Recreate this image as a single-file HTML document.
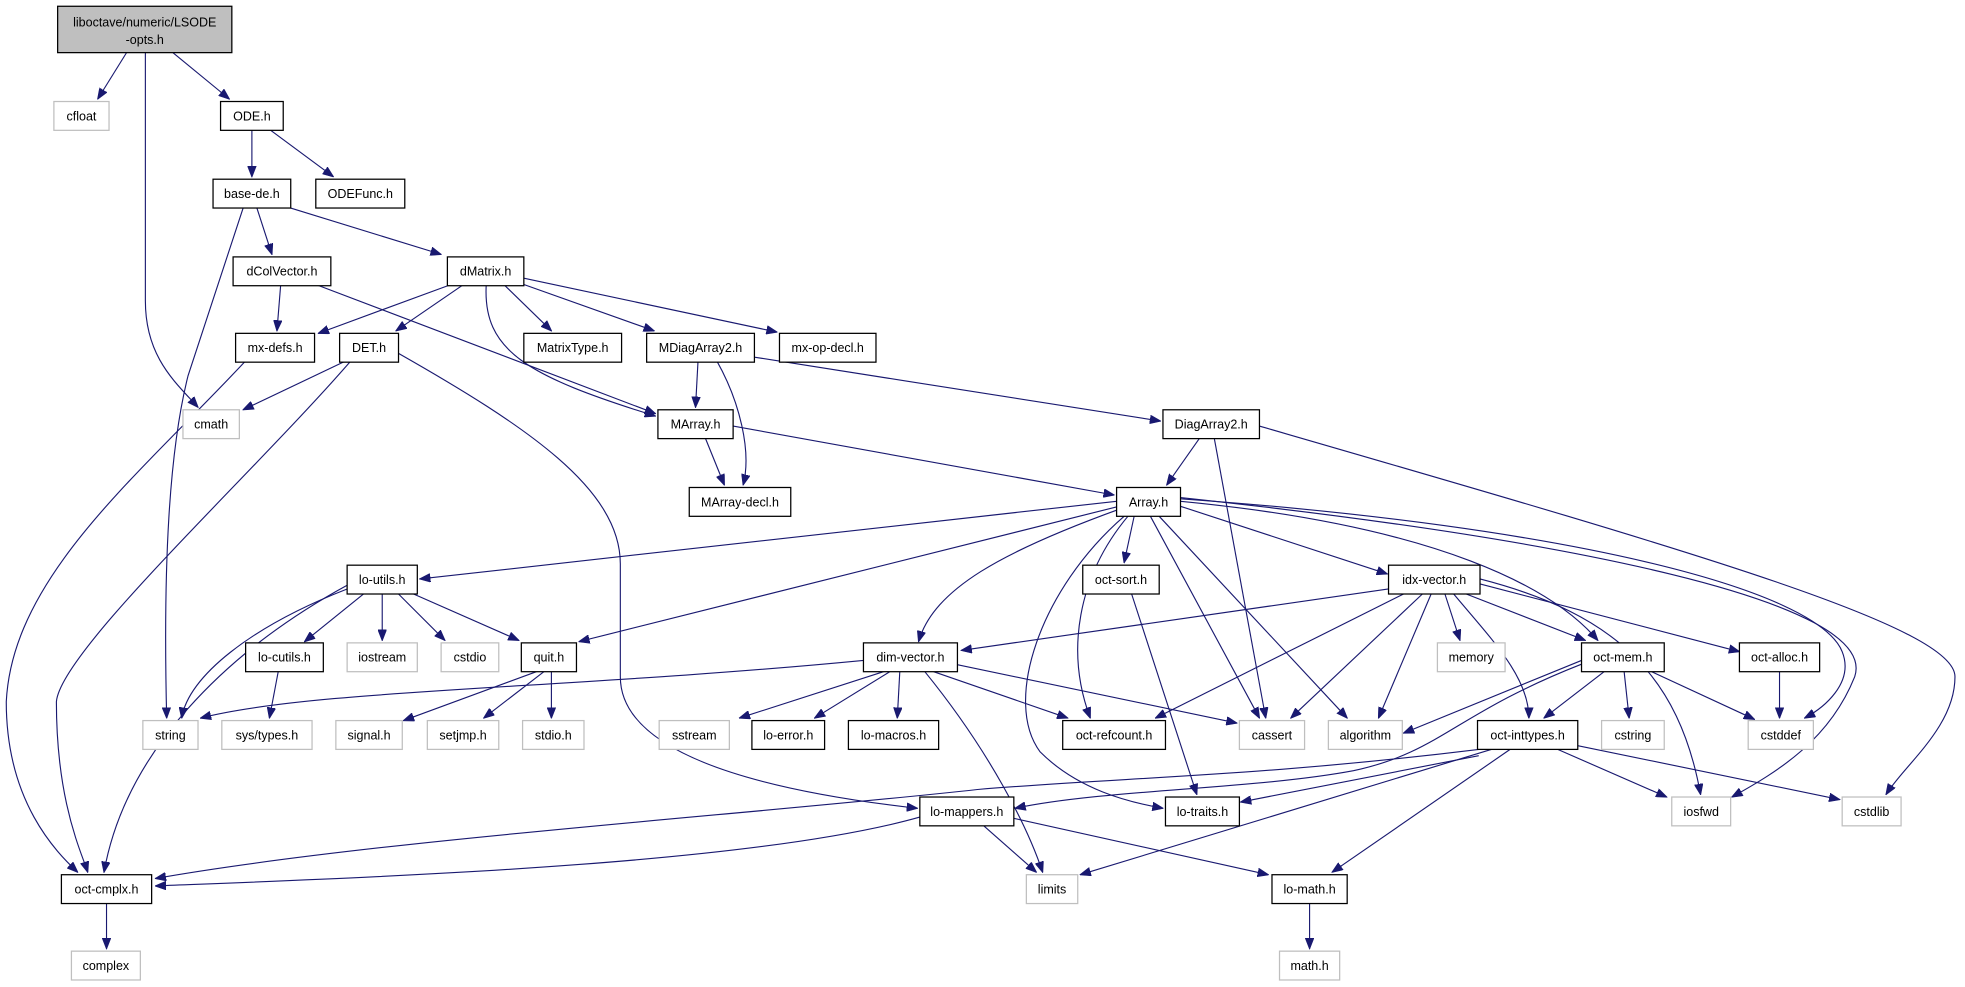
<!DOCTYPE html>
<html><head><meta charset="utf-8"><style>
html,body{margin:0;padding:0;background:#fff;}
svg{display:block;}
text{font-family:"Liberation Sans",sans-serif;font-size:10px;text-anchor:middle;fill:#000;}
.n{fill:#fff;stroke:#000;stroke-width:1;}
.g{fill:#fff;stroke:#bfbfbf;stroke-width:1;}
.e{fill:none;stroke:#191970;stroke-width:0.9;}
</style></head><body>
<svg width="1965" height="987" viewBox="0 0 1568 787.6" preserveAspectRatio="none" xmlns="http://www.w3.org/2000/svg">
<defs><marker id="a" markerWidth="9" markerHeight="7" refX="8.5" refY="3.5" orient="auto" markerUnits="userSpaceOnUse"><path d="M0,0 L9,3.5 L0,7 z" fill="#191970" stroke="#191970" stroke-width="0.5"/></marker></defs>
<g class="e" marker-end="url(#a)">
<path d="M101 42 L78 79"/>
<path d="M116 42 L116 240 C116 285,140 305,158 325"/>
<path d="M138 42 L183 79"/>
<path d="M201 104 L201 141"/>
<path d="M216 104 L266 141"/>
<path d="M194 166 L150 300 C135 360,130 450,133 573"/>
<path d="M205 166 L217 203"/>
<path d="M232 166 L352 203"/>
<path d="M224 227 L221 264"/>
<path d="M252 227 L523 330"/>
<path d="M360 227 L254 266"/>
<path d="M370 227 L316 264"/>
<path d="M388 227 C385 280,420 300,523 332"/>
<path d="M402 227 L440 264"/>
<path d="M418 227 L522 264"/>
<path d="M418 222 L620 265"/>
<path d="M196 288 C110 380,10 460,5 560 C5 640,45 680,62 696"/>
<path d="M280 288 C200 380,48 520,45 560 C45 640,65 680,70 696"/>
<path d="M276 288 L194 327"/>
<path d="M318 282 C420 340,495 390,495 450 L495 540 C495 600,600 630,732 645"/>
<path d="M557 288 L555 325"/>
<path d="M572 288 C590 320,600 360,593 387"/>
<path d="M602 285 L926 336"/>
<path d="M563 350 L578 387"/>
<path d="M585 340 L889 395"/>
<path d="M957 350 L931 387"/>
<path d="M969 350 L1010 573"/>
<path d="M1005 340 C1350 440,1560 500,1560 540 C1560 580,1520 610,1505 634"/>
<path d="M891 400 L335 462"/>
<path d="M893 404 L462 512"/>
<path d="M894 406 C800 440,745 470,733 512"/>
<path d="M905 412 L897 449"/>
<path d="M897 412 C830 470,800 560,830 600 C860 630,900 640,928 645"/>
<path d="M900 412 C860 460,850 520,870 573"/>
<path d="M918 412 L1005 573"/>
<path d="M925 412 L1075 573"/>
<path d="M942 404 L1107 458"/>
<path d="M942 400 C1150 420,1240 470,1275 511"/>
<path d="M942 398 C1250 420,1450 470,1470 520 C1480 545,1455 565,1440 573"/>
<path d="M942 397 C1250 430,1500 480,1480 540 C1460 590,1420 615,1382 636"/>
<path d="M277 467 C180 520,100 600,83 696"/>
<path d="M277 470 C200 500,150 540,145 573"/>
<path d="M290 474 L243 512"/>
<path d="M305 474 L305 511"/>
<path d="M318 474 L355 511"/>
<path d="M330 474 L414 511"/>
<path d="M428 536 L322 575"/>
<path d="M434 536 L386 573"/>
<path d="M440 536 L440 573"/>
<path d="M222 536 L215 573"/>
<path d="M689 527 C450 550,250 550,160 573"/>
<path d="M705 536 L590 573"/>
<path d="M710 536 L650 573"/>
<path d="M718 536 L716 573"/>
<path d="M745 536 L852 573"/>
<path d="M762 530 L987 577"/>
<path d="M738 536 C790 600,820 660,832 696"/>
<path d="M1108 470 L767 519"/>
<path d="M1120 474 L922 573"/>
<path d="M1135 474 L1030 573"/>
<path d="M1142 474 L1100 573"/>
<path d="M1153 474 L1165 511"/>
<path d="M1170 474 L1265 511"/>
<path d="M1160 474 C1190 510,1220 540,1220 573"/>
<path d="M1181 466 L1388 520"/>
<path d="M1181 462 C1290 490,1340 540,1357 634"/>
<path d="M1262 527 L1120 585"/>
<path d="M1262 530 C1160 570,1150 600,1080 615 C1000 630,880 630,810 645"/>
<path d="M1280 536 L1232 573"/>
<path d="M1296 536 L1300 573"/>
<path d="M1318 536 L1400 574"/>
<path d="M1420 536 L1420 573"/>
<path d="M1180 598 C1000 620,900 620,780 630 C600 650,300 670,124 701"/>
<path d="M734 652 C600 690,300 700,124 707"/>
<path d="M1180 603 L990 640"/>
<path d="M1190 598 L862 698"/>
<path d="M1205 598 L1063 696"/>
<path d="M1243 598 L1330 636"/>
<path d="M1259 595 L1468 638"/>
<path d="M785 659 L827 696"/>
<path d="M809 653 L1012 698"/>
<path d="M903 474 L955 634"/>
<path d="M85 721 L85 757"/>
<path d="M1045 721 L1045 757"/>
</g>
<!-- nodes -->
<rect x="46" y="5" width="139" height="37" fill="#bfbfbf" stroke="#000"/>
<text x="115.5" y="21">liboctave/numeric/LSODE</text><text x="115.5" y="35">-opts.h</text>
<g>
<rect class="g" x="43" y="81" width="44" height="23"/><text x="65" y="96">cfloat</text>
<rect class="n" x="176" y="81" width="50" height="23"/><text x="201" y="96">ODE.h</text>
<rect class="n" x="170" y="143" width="62" height="23"/><text x="201" y="158">base-de.h</text>
<rect class="n" x="252" y="143" width="71" height="23"/><text x="287.5" y="158">ODEFunc.h</text>
<rect class="n" x="186" y="205" width="78" height="23"/><text x="225" y="220">dColVector.h</text>
<rect class="n" x="357" y="205" width="61" height="23"/><text x="387.5" y="220">dMatrix.h</text>
<rect class="n" x="188" y="266" width="63" height="23"/><text x="219.5" y="281">mx-defs.h</text>
<rect class="n" x="271" y="266" width="47" height="23"/><text x="294.5" y="281">DET.h</text>
<rect class="n" x="418" y="266" width="78" height="23"/><text x="457" y="281">MatrixType.h</text>
<rect class="n" x="516" y="266" width="86" height="23"/><text x="559" y="281">MDiagArray2.h</text>
<rect class="n" x="622" y="266" width="77" height="23"/><text x="660.5" y="281">mx-op-decl.h</text>
<rect class="g" x="146" y="327" width="45" height="23"/><text x="168.5" y="342">cmath</text>
<rect class="n" x="525" y="327" width="60" height="23"/><text x="555" y="342">MArray.h</text>
<rect class="n" x="928" y="327" width="77" height="23"/><text x="966.5" y="342">DiagArray2.h</text>
<rect class="n" x="550" y="389" width="81" height="23"/><text x="590.5" y="404">MArray-decl.h</text>
<rect class="n" x="891" y="389" width="51" height="23"/><text x="916.5" y="404">Array.h</text>
<rect class="n" x="277" y="451" width="56" height="23"/><text x="305" y="466">lo-utils.h</text>
<rect class="n" x="864" y="451" width="61" height="23"/><text x="894.5" y="466">oct-sort.h</text>
<rect class="n" x="1108" y="451" width="73" height="23"/><text x="1144.5" y="466">idx-vector.h</text>
<rect class="n" x="196" y="513" width="62" height="23"/><text x="227" y="528">lo-cutils.h</text>
<rect class="g" x="277" y="513" width="56" height="23"/><text x="305" y="528">iostream</text>
<rect class="g" x="352" y="513" width="46" height="23"/><text x="375" y="528">cstdio</text>
<rect class="n" x="416" y="513" width="44" height="23"/><text x="438" y="528">quit.h</text>
<rect class="n" x="689" y="513" width="75" height="23"/><text x="726.5" y="528">dim-vector.h</text>
<rect class="g" x="1147" y="513" width="54" height="23"/><text x="1174" y="528">memory</text>
<rect class="n" x="1262" y="513" width="66" height="23"/><text x="1295" y="528">oct-mem.h</text>
<rect class="n" x="1388" y="513" width="64" height="23"/><text x="1420" y="528">oct-alloc.h</text>
<rect class="g" x="114" y="575" width="44" height="23"/><text x="136" y="590">string</text>
<rect class="g" x="177" y="575" width="72" height="23"/><text x="213" y="590">sys/types.h</text>
<rect class="g" x="268" y="575" width="53" height="23"/><text x="294.5" y="590">signal.h</text>
<rect class="g" x="341" y="575" width="57" height="23"/><text x="369.5" y="590">setjmp.h</text>
<rect class="g" x="417" y="575" width="49" height="23"/><text x="441.5" y="590">stdio.h</text>
<rect class="g" x="526" y="575" width="56" height="23"/><text x="554" y="590">sstream</text>
<rect class="n" x="600" y="575" width="58" height="23"/><text x="629" y="590">lo-error.h</text>
<rect class="n" x="677" y="575" width="72" height="23"/><text x="713" y="590">lo-macros.h</text>
<rect class="n" x="848" y="575" width="82" height="23"/><text x="889" y="590">oct-refcount.h</text>
<rect class="g" x="989" y="575" width="52" height="23"/><text x="1015" y="590">cassert</text>
<rect class="g" x="1060" y="575" width="59" height="23"/><text x="1089.5" y="590">algorithm</text>
<rect class="n" x="1179" y="575" width="80" height="23"/><text x="1219" y="590">oct-inttypes.h</text>
<rect class="g" x="1278" y="575" width="50" height="23"/><text x="1303" y="590">cstring</text>
<rect class="g" x="1395" y="575" width="52" height="23"/><text x="1421" y="590">cstddef</text>
<rect class="n" x="734" y="636" width="75" height="23"/><text x="771.5" y="651">lo-mappers.h</text>
<rect class="n" x="930" y="636" width="59" height="23"/><text x="959.5" y="651">lo-traits.h</text>
<rect class="g" x="1334" y="636" width="47" height="23"/><text x="1357.5" y="651">iosfwd</text>
<rect class="g" x="1470" y="636" width="47" height="23"/><text x="1493.5" y="651">cstdlib</text>
<rect class="n" x="49" y="698" width="72" height="23"/><text x="85" y="713">oct-cmplx.h</text>
<rect class="g" x="819" y="698" width="41" height="23"/><text x="839.5" y="713">limits</text>
<rect class="n" x="1015" y="698" width="60" height="23"/><text x="1045" y="713">lo-math.h</text>
<rect class="g" x="57" y="759" width="55" height="23"/><text x="84.5" y="774">complex</text>
<rect class="g" x="1021" y="759" width="48" height="23"/><text x="1045" y="774">math.h</text>
</g>
</svg>
</body></html>
